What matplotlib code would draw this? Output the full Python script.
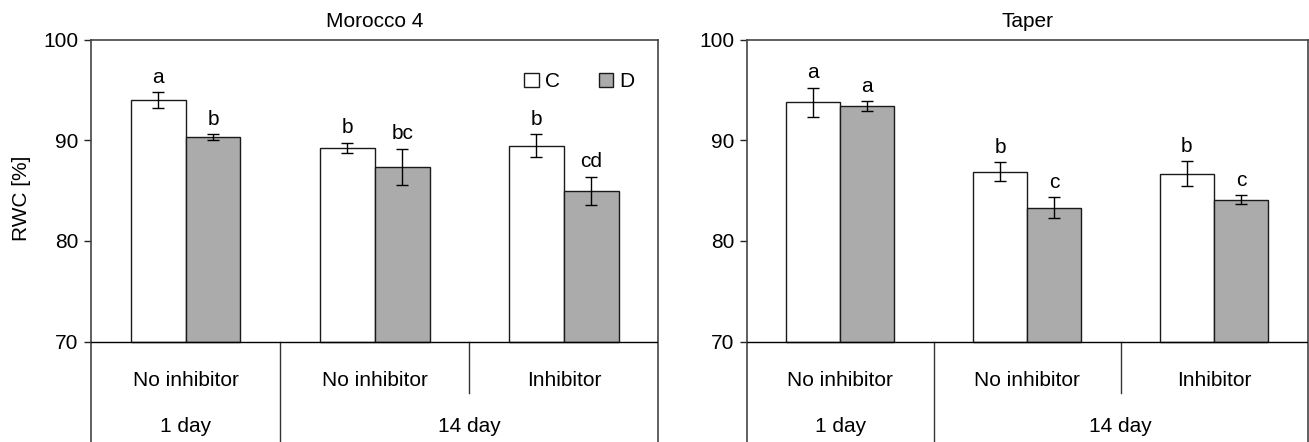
import numpy as np
import matplotlib.pyplot as plt
from matplotlib.patches import Patch

plt.rcParams['font.family'] = ['Liberation Sans', 'DejaVu Sans']
plt.rcParams['font.size'] = 15

# data
groups = ['No inhibitor', 'No inhibitor', 'Inhibitor']
periods = ['1 day', '14 day']
titles = ['Morocco 4', 'Taper']

morocco_c = [94.0, 89.3, 89.5]
morocco_c_err = [0.8, 0.5, 1.1]
morocco_d = [90.3, 87.4, 85.0]
morocco_d_err = [0.3, 1.8, 1.4]
morocco_c_letters = ['a', 'b', 'b']
morocco_d_letters = ['b', 'bc', 'cd']

taper_c = [93.8, 86.9, 86.7]
taper_c_err = [1.45, 0.95, 1.25]
taper_d = [93.4, 83.3, 84.1]
taper_d_err = [0.5, 1.05, 0.45]
taper_c_letters = ['a', 'b', 'b']
taper_d_letters = ['a', 'c', 'c']

panels = [
    (morocco_c, morocco_c_err, morocco_d, morocco_d_err, morocco_c_letters, morocco_d_letters),
    (taper_c, taper_c_err, taper_d, taper_d_err, taper_c_letters, taper_d_letters),
]

W, H = 1309, 442
fig = plt.figure(figsize=(W / 100, H / 100), dpi=100)
axes_px = [(91, 567.5), (746.7, 560.8)]  # left edge, width in pixels
top_px = 40

gray = '#ababab'
edge = '#1a1a1a'
width = 0.29
base = 70
x = np.arange(len(groups))
fs = 15

for i, (c, ce, d, de, cl, dl) in enumerate(panels):
    left, w = axes_px[i]
    ax = fig.add_axes([left / W, 0, w / W, (H - top_px) / H])
    ax.set_xlim(-0.5, 2.5)
    ax.set_ylim(60, 100)

    c_h = np.array(c) - base
    d_h = np.array(d) - base
    ax.bar(x - width / 2, c_h, width, bottom=base, color='white', edgecolor=edge, linewidth=1.0, zorder=2)
    ax.bar(x + width / 2, d_h, width, bottom=base, color=gray, edgecolor=edge, linewidth=1.0, zorder=2)
    ax.errorbar(x - width / 2, c, yerr=ce, fmt='none', ecolor='black', elinewidth=1.0,
                capsize=4, capthick=1.0, zorder=3)
    ax.errorbar(x + width / 2, d, yerr=de, fmt='none', ecolor='black', elinewidth=1.0,
                capsize=4, capthick=1.0, zorder=3)

    for xi, v, e, t in zip(x - width / 2, c, ce, cl):
        ax.annotate(t, (xi, v + e), xytext=(0, 4), textcoords='offset points',
                    ha='center', va='bottom', fontsize=fs)
    for xi, v, e, t in zip(x + width / 2, d, de, dl):
        ax.annotate(t, (xi, v + e), xytext=(0, 4), textcoords='offset points',
                    ha='center', va='bottom', fontsize=fs)

    # category table under the plot
    ax.axhline(base, color='black', linewidth=1.0, zorder=4)
    ax.plot([0.5, 0.5], [60, 70], color='#333333', linewidth=1.0, clip_on=False)
    ax.plot([1.5, 1.5], [64.9, 70], color='#333333', linewidth=1.0)
    for xi, g in zip(x, groups):
        ax.text(xi, 66.1, g, ha='center', va='center', fontsize=fs)
    ax.text(0, 61.5, periods[0], ha='center', va='center', fontsize=fs)
    ax.text(1.5, 61.5, periods[1], ha='center', va='center', fontsize=fs)

    ax.set_yticks([70, 80, 90, 100])
    ax.set_xticks([])
    ax.tick_params(axis='y', direction='out', length=5, width=1.0, pad=4, colors='#222222',
                   labelcolor='black', labelsize=fs)
    ax.spines['bottom'].set_visible(False)
    for s in ['left', 'top', 'right']:
        ax.spines[s].set_color('#444444')
        ax.spines[s].set_linewidth(1.2)

    ax.text(0.5, 1.047, titles[i], transform=ax.transAxes, ha='center', va='center', fontsize=fs)

    if i == 0:
        ax.set_ylabel('RWC [%]', fontsize=fs)
        ax.yaxis.set_label_coords(-0.105, 0.607)
        handles = [Patch(facecolor='white', edgecolor=edge, linewidth=1.0, label='C'),
                   Patch(facecolor=gray, edgecolor=edge, linewidth=1.0, label='D')]
        ax.legend(handles=handles, loc='upper right', bbox_to_anchor=(0.958, 0.92), ncol=2,
                  frameon=False, handlelength=0.7, handleheight=0.7, handletextpad=0.3,
                  columnspacing=1.85, borderpad=0, borderaxespad=0, fontsize=fs)

fig.savefig('out.png', dpi=100)
